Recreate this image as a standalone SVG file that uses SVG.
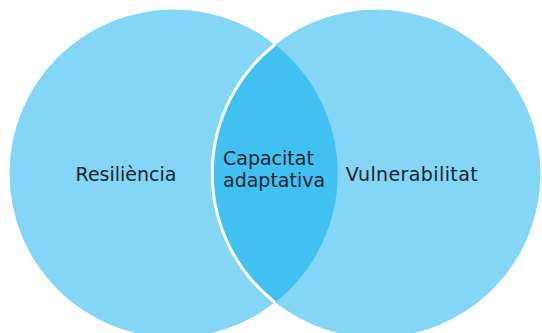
<svg xmlns="http://www.w3.org/2000/svg" width="542" height="333" viewBox="0 0 542 333">
  <style>
    .circle { fill: #83D6F6; }
    .lens { fill: #41C1F1; }
    .sep { fill: none; stroke: #FFFFFF; stroke-width: 3; }
    .label { font-family: "DejaVu Sans", Verdana, sans-serif; font-size: 19px; fill: #17252C; }
  </style>
  <rect width="542" height="333" fill="#FFFFFF"/>
  <g id="resiliencia">
    <circle class="circle" cx="173.5" cy="173.5" r="164"/>
  </g>
  <g id="vulnerabilitat">
    <circle class="circle" cx="376.5" cy="173.5" r="164"/>
  </g>
  <g id="capacitat-adaptativa">
    <path class="lens" d="M 275 44.5 A 164 164 0 0 0 275 302.5 A 164 164 0 0 0 275 44.5 Z"/>
    <path class="sep" d="M 275 44.5 A 164 164 0 0 0 275 302.5"/>
  </g>
  <g id="labels">
    <text class="label" x="126" y="181" text-anchor="middle">Resiliència</text>
    <text class="label" x="412" y="181" text-anchor="middle" letter-spacing="0.4">Vulnerabilitat</text>
    <text class="label" x="223" y="165">Capacitat</text>
    <text class="label" x="223" y="187">adaptativa</text>
  </g>
</svg>
